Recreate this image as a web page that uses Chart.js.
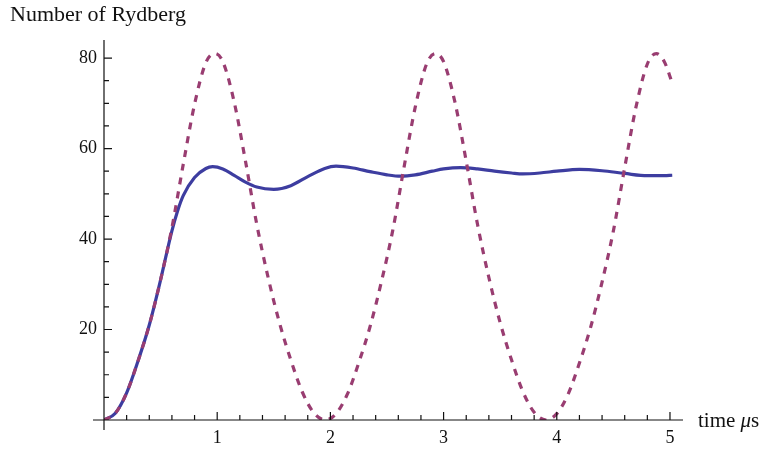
<!DOCTYPE html>
<html>
<head>
<meta charset="utf-8">
<script src="https://cdn.jsdelivr.net/npm/chart.js@4/dist/chart.umd.min.js"></script>
<style>
  body { margin: 0; background: #fff; }
  canvas { display: block; }
</style>
</head>
<body>
<canvas id="rydbergChart" width="766" height="450"></canvas>
<script>
// values (time in microseconds, number of Rydberg atoms)
const dashedTimes = [0, 0.1, 0.2, 0.3, 0.4, 0.5, 0.6, 0.7, 0.8, 0.9, 0.98,
  1.05, 1.15, 1.25, 1.35, 1.45, 1.55, 1.65, 1.75, 1.85, 1.955,
  2.05, 2.15, 2.25, 2.35, 2.45, 2.55, 2.65, 2.75, 2.85, 2.93,
  3.0, 3.1, 3.2, 3.3, 3.4, 3.5, 3.6, 3.7, 3.8, 3.905,
  4.0, 4.1, 4.2, 4.3, 4.4, 4.5, 4.6, 4.7, 4.8, 4.88, 4.95, 5.02];
const dashedCounts = [0, 1.5, 6.0, 13.0, 21.0, 31.0, 42.5, 56.5, 69.8, 79.0, 81.0,
  79.2, 70.3, 57.2, 43.2, 31.5, 21.5, 13.3, 6.3, 1.7, 0,
  1.4, 5.7, 12.6, 20.6, 30.5, 41.8, 55.8, 69.2, 78.7, 81.0,
  79.2, 70.3, 57.2, 43.2, 31.5, 21.5, 13.3, 6.3, 1.7, 0,
  1.4, 5.7, 12.6, 20.6, 30.5, 41.8, 55.8, 69.2, 78.7, 81.0, 79.2, 74.5];

const solidTimes = [0, 0.1, 0.2, 0.3, 0.4, 0.5, 0.55, 0.6, 0.65, 0.7, 0.8, 0.9, 0.96,
  1.05, 1.15, 1.25, 1.35, 1.5, 1.65, 1.8, 1.95, 2.05, 2.2, 2.35, 2.5, 2.62,
  2.75, 2.9, 3.0, 3.15, 3.3, 3.45, 3.6, 3.7, 3.85, 4.0, 4.2, 4.4, 4.6, 4.8, 4.95, 5.02];
const solidCounts = [0, 1.5, 6.0, 13.0, 21.0, 31.0, 36.5, 41.8, 46.2, 49.6, 53.6, 55.6, 56.0,
  55.5, 54.1, 52.6, 51.5, 51.0, 51.8, 53.8, 55.6, 56.1, 55.7, 54.9, 54.2, 53.9,
  54.2, 55.0, 55.5, 55.8, 55.5, 55.0, 54.6, 54.4, 54.6, 55.0, 55.4, 55.1, 54.5, 54.0, 54.0, 54.1];

const xTickLabels = [1, 2, 3, 4, 5];
const yTickLabels = [20, 40, 60, 80];

const serif = "'Liberation Serif', 'DejaVu Serif', serif";
const xMinor = 0.2;
const yMinor = 5;

const toPoints = (times, counts) => times.map((t, i) => ({ x: t, y: counts[i] }));

// mathematica style axes: crossing lines with inside tick marks
const axesPlugin = {
  id: "axes",
  afterDraw(chart) {
    const c = chart.ctx;
    const xs = chart.scales.x;
    const ys = chart.scales.y;
    const x0 = xs.getPixelForValue(0);
    const y0 = ys.getPixelForValue(0);
    c.save();
    c.strokeStyle = "#111";
    c.lineWidth = 1.2;
    c.beginPath();
    c.moveTo(x0 - 11, y0);
    c.lineTo(chart.chartArea.right, y0);
    c.moveTo(x0, y0 + 10);
    c.lineTo(x0, chart.chartArea.top);
    for (let v = xMinor; v <= xs.max + 1e-9; v += xMinor) {
      const px = xs.getPixelForValue(v);
      const major = Math.abs(v - Math.round(v)) < 1e-6;
      c.moveTo(px, y0);
      c.lineTo(px, y0 - (major ? 8 : 5));
    }
    for (let v = yMinor; v <= ys.max + 1e-9; v += yMinor) {
      const py = ys.getPixelForValue(v);
      const major = v % 20 === 0;
      c.moveTo(x0, py);
      c.lineTo(x0 + (major ? 8 : 5), py);
    }
    c.stroke();

    // axis label at the end of the time axis
    c.fillStyle = "#111";
    c.textBaseline = "alphabetic";
    let tx = chart.chartArea.right + 15;
    const ty = y0 + 7;
    c.font = "21px " + serif;
    c.fillText("time ", tx, ty);
    tx += c.measureText("time ").width;
    c.font = "italic 21px " + serif;
    c.fillText("\u03bc", tx, ty);
    tx += c.measureText("\u03bc").width;
    c.font = "21px " + serif;
    c.fillText("s", tx, ty);
    c.restore();
  },
};

new Chart(document.getElementById("rydbergChart"), {
  type: "line",
  data: {
    datasets: [
      {
        label: "dashed",
        data: toPoints(dashedTimes, dashedCounts),
        borderColor: "rgb(153, 61, 113)",
        borderWidth: 3.2,
        borderDash: [7, 7],
        pointRadius: 0,
        cubicInterpolationMode: "monotone",
      },
      {
        label: "solid",
        data: toPoints(solidTimes, solidCounts),
        borderColor: "rgb(61, 61, 160)",
        borderWidth: 3.2,
        pointRadius: 0,
        cubicInterpolationMode: "monotone",
      },
    ],
  },
  options: {
    responsive: false,
    animation: false,
    layout: { padding: { left: 10, right: 83, top: 0, bottom: 0 } },
    plugins: {
      legend: { display: false },
      tooltip: { enabled: false },
      title: {
        display: true,
        text: "Number of Rydberg",
        align: "start",
        color: "#111",
        font: { family: serif, size: 22, weight: "normal" },
        padding: { top: 2, bottom: 11.6 },
      },
    },
    scales: {
      x: {
        type: "linear",
        min: 0,
        max: 5.115,
        afterFit: (scale) => { scale.height = 30; },
        afterBuildTicks: (scale) => { scale.ticks = xTickLabels.map((v) => ({ value: v })); },
        grid: { display: false, drawTicks: false },
        border: { display: false },
        ticks: {
          autoSkip: false,
          maxRotation: 0,
          padding: 7,
          color: "#111",
          font: { family: serif, size: 18 },
        },
      },
      y: {
        type: "linear",
        min: 0,
        max: 84,
        afterFit: (scale) => { scale.width = 94; },
        afterBuildTicks: (scale) => { scale.ticks = yTickLabels.map((v) => ({ value: v })); },
        grid: { display: false, drawTicks: false },
        border: { display: false },
        ticks: {
          autoSkip: false,
          padding: 7,
          color: "#111",
          font: { family: serif, size: 18 },
        },
      },
    },
  },
  plugins: [axesPlugin],
});
</script>
</body>
</html>
